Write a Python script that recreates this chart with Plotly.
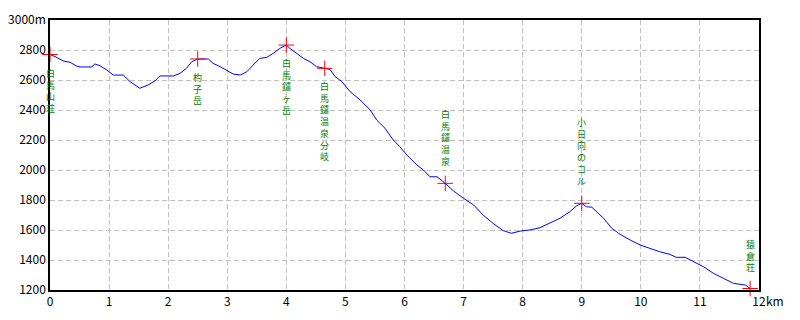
import plotly.graph_objects as go

# profile: distance (km) / elevation (m)
dist = [0, 0.085, 0.225, 0.34, 0.45, 0.51, 0.705, 0.76, 0.846, 0.96, 1.07, 1.24, 1.354, 1.52, 1.66,
        1.78, 1.86, 2.09, 2.2, 2.31, 2.40, 2.5, 2.68, 2.76, 2.88, 2.99, 3.10, 3.22, 3.33, 3.44,
        3.55, 3.67, 3.78, 3.89, 4.0, 4.06, 4.18, 4.29, 4.40, 4.51, 4.65, 4.74, 4.82, 4.94, 5.08,
        5.25, 5.42, 5.53, 5.67, 5.81, 5.92, 6.04, 6.21, 6.32, 6.43, 6.55, 6.69, 6.83, 7.0, 7.17,
        7.33, 7.50, 7.67, 7.81, 7.96, 8.12, 8.29, 8.46, 8.63, 8.80, 8.91, 9.0, 9.08, 9.17, 9.22,
        9.37, 9.51, 9.65, 9.82, 9.99, 10.15, 10.32, 10.49, 10.6, 10.75, 10.89, 11.06, 11.23,
        11.40, 11.57, 11.77, 11.85]
elev = [2770, 2756, 2727, 2718, 2693, 2687, 2687, 2707, 2695, 2667, 2633, 2633, 2589, 2545, 2567,
        2595, 2627, 2627, 2644, 2678, 2722, 2740, 2740, 2711, 2689, 2662, 2640, 2633, 2655, 2700,
        2744, 2751, 2778, 2811, 2833, 2811, 2778, 2744, 2722, 2689, 2678, 2670, 2625, 2589, 2522,
        2467, 2400, 2333, 2278, 2200, 2156, 2100, 2033, 2000, 1955, 1955, 1911, 1860, 1811, 1767,
        1700, 1644, 1596, 1578, 1593, 1600, 1615, 1644, 1678, 1722, 1760, 1778, 1755, 1752, 1733,
        1678, 1611, 1571, 1533, 1500, 1478, 1455, 1438, 1418, 1418, 1389, 1355, 1311,
        1278, 1244, 1233, 1210]

# waypoints
wp_names = ["白馬山荘", "杓子岳", "白馬鑓ヶ岳", "白馬鑓温泉分岐", "白馬鑓温泉", "小日向のコル", "猿倉荘"]
wp_x = [0, 2.5, 4.0, 4.65, 6.69, 9.0, 11.85]
wp_y = [2770, 2740, 2833, 2678, 1911, 1778, 1210]
wp_side = ["below", "below", "below", "below", "above", "above", "above"]

x_ticks = list(range(0, 13))
x_ticktext = [str(v) for v in range(0, 12)] + ["12"]
y_ticks = list(range(1200, 3001, 200))
y_ticktext = [str(v) for v in range(1200, 3000, 200)] + ["3000m"]

fig = go.Figure()
fig.add_trace(go.Scatter(x=dist, y=elev, mode="lines",
                         line=dict(color="#0000ff", width=1), hoverinfo="skip"))
fig.add_trace(go.Scatter(x=wp_x, y=wp_y, mode="markers",
                         marker=dict(symbol="cross-thin", size=11,
                                     line=dict(color="#ff0000", width=1)),
                         hoverinfo="skip", cliponaxis=False))

for name, x, y, side in zip(wp_names, wp_x, wp_y, wp_side):
    vtext = "<br>".join(list(name))
    if side == "below":
        fig.add_annotation(x=x, y=y, text=vtext, showarrow=False, xanchor="center",
                           yanchor="top", yshift=-11, borderpad=0,
                           font=dict(family="Noto Sans CJK JP", size=9, color="#008000"))
    else:
        fig.add_annotation(x=x, y=y, text=vtext, showarrow=False, xanchor="center",
                           yanchor="bottom", yshift=14, borderpad=0,
                           font=dict(family="Noto Sans CJK JP", size=9, color="#008000"))

fig.add_annotation(x=12, y=1200, text="km", showarrow=False, xanchor="left", yanchor="middle",
                   xshift=5, yshift=-10, font=dict(family="Noto Sans CJK JP", size=12, color="#000000"))

grid = dict(showgrid=True, gridcolor="#c0c0c0", griddash="5px,3px", gridwidth=1)
fig.update_xaxes(range=[0, 12], tickvals=x_ticks, ticktext=x_ticktext, showline=True,
                 linecolor="#000000", linewidth=1.5, mirror=True, ticks="", zeroline=False,
                 automargin=False,
                 tickfont=dict(family="Noto Sans CJK JP", size=12, color="#000000"), **grid)
fig.update_yaxes(range=[1200, 3000], tickvals=y_ticks, ticktext=y_ticktext, showline=True,
                 linecolor="#000000", linewidth=1.5, mirror=True, ticks="", zeroline=False,
                 automargin=False,
                 tickfont=dict(family="Noto Sans CJK JP", size=12, color="#000000"), **grid)
fig.update_layout(width=800, height=320, margin=dict(l=50, r=41, t=20, b=30),
                  paper_bgcolor="#ffffff", plot_bgcolor="#ffffff", showlegend=False)

fig.write_html("out.html")
